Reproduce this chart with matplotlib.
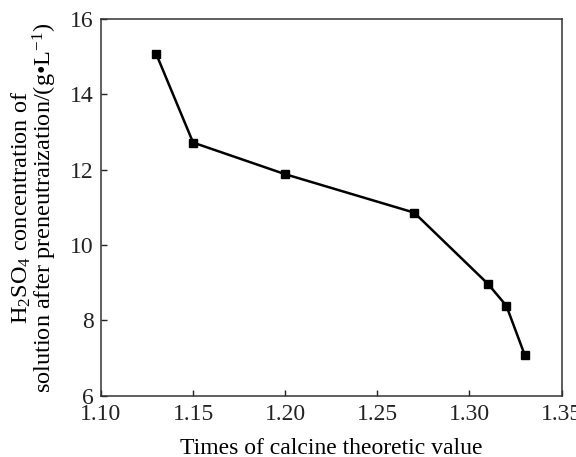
import matplotlib.pyplot as plt

plt.rcParams['font.family'] = 'Liberation Serif'
plt.rcParams['mathtext.fontset'] = 'custom'
plt.rcParams['mathtext.rm'] = 'Liberation Serif'
plt.rcParams['mathtext.it'] = 'Liberation Serif:italic'

# times of calcine theoretic value vs H2SO4 concentration
times = [1.13, 1.15, 1.20, 1.27, 1.31, 1.32, 1.33]
h2so4 = [15.07, 12.72, 11.88, 10.86, 8.97, 8.39, 7.08]
xticks = [1.10, 1.15, 1.20, 1.25, 1.30, 1.35]
yticks = [6, 8, 10, 12, 14, 16]

fig = plt.figure(figsize=(5.76, 4.57), dpi=100)
ax = fig.add_axes([0.1753, 0.1341, 0.7997, 0.8243])

ax.plot(times, h2so4, color='black', linewidth=1.8, marker='s', markersize=5.3)

ax.set_xlim(1.10, 1.35)
ax.set_ylim(6, 16)
ax.set_xticks(xticks)
ax.set_xticklabels(["%.2f" % t for t in xticks])
ax.set_yticks(yticks)
ax.tick_params(direction='in', length=4, width=1, labelsize=17,
               colors='#222222')
ax.tick_params(axis='x', pad=6)
ax.tick_params(axis='y', pad=5)
for s in ax.spines.values():
    s.set_linewidth(1.1)
    s.set_color('#333333')

ax.set_xlabel("Times of calcine theoretic value", fontsize=17, labelpad=9)
ax.set_ylabel("H$_2$SO$_4$ concentration of\nsolution after preneutraization/(g\u2022L$^{-1}$)",
              fontsize=17.5, linespacing=0.9, labelpad=8)

fig.savefig("out.png", dpi=100)
